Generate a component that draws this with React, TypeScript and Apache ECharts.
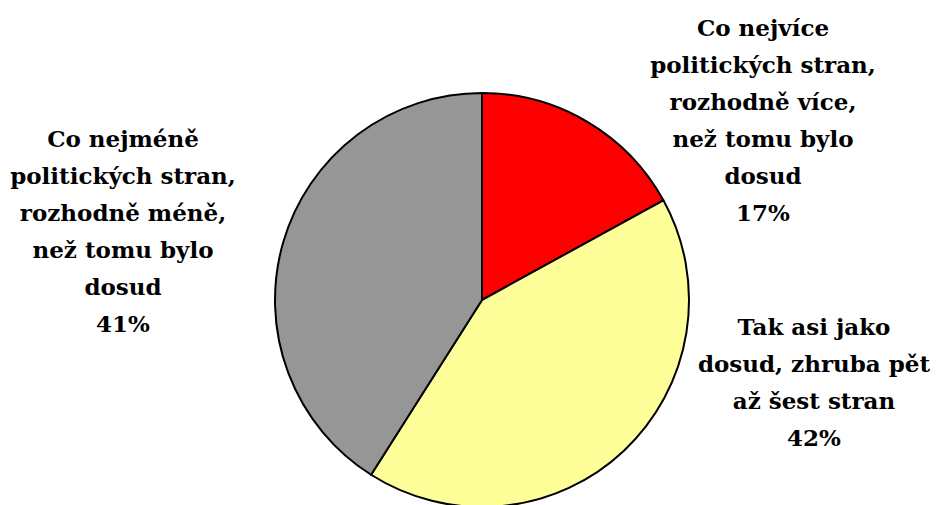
import React, { useEffect, useRef } from "react";
import * as echarts from "echarts";

const categories = [
  "Co nejvíce\npolitických stran,\nrozhodně více,\nnež tomu bylo\ndosud",
  "Tak asi jako\ndosud, zhruba pět\naž šest stran",
  "Co nejméně\npolitických stran,\nrozhodně méně,\nnež tomu bylo\ndosud",
];
const values = [17, 42, 41];
const colors = ["#FF0000", "#FFFF99", "#969696"];
const labelCenters = [
  [763, 120],
  [814, 382],
  [123, 231],
];

const FONT = "DejaVu Serif";

export default function App() {
  const ref = useRef<HTMLDivElement>(null);
  useEffect(() => {
    document.body.style.margin = "0";
    const chart = echarts.init(ref.current!, null, { renderer: "svg" });
    chart.setOption({
      animation: false,
      backgroundColor: "#ffffff",
      series: [
        {
          type: "pie",
          center: [482, 300],
          radius: 207,
          startAngle: 90,
          clockwise: true,
          data: categories.map((name, i) => ({
            name,
            value: values[i],
            itemStyle: { color: colors[i] },
          })),
          itemStyle: { borderColor: "#000000", borderWidth: 2 },
          label: {
            show: true,
            position: "outside",
            formatter: (p: any) => `${p.name}\n${p.value}%`,
            fontFamily: FONT,
            fontWeight: "bold",
            fontSize: 23,
            lineHeight: 37,
            color: "#000000",
            align: "center",
            overflow: "none",
          },
          labelLine: { show: false },
          labelLayout: (params: any) => {
            const c = labelCenters[params.dataIndex];
            return {
              x: c[0],
              y: c[1],
              align: "center",
              verticalAlign: "middle",
            };
          },
          emphasis: { disabled: true },
        },
      ],
    });
    return () => chart.dispose();
  }, []);
  return <div ref={ref} style={{ width: 936, height: 505 }} />;
}
